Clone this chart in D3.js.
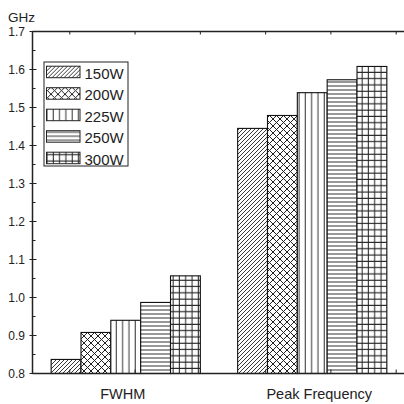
<!DOCTYPE html>
<html>
<head>
<meta charset="utf-8">
<script src="https://cdn.jsdelivr.net/npm/d3@7"></script>
<style>
  body { margin: 0; background: #fff; }
  text { font-family: Arial, "Liberation Sans", sans-serif; fill: #222; }
</style>
</head>
<body>
<script>
// chart data
var groups = ["FWHM", "Peak Frequency"];
var series = ["150W", "200W", "225W", "250W", "300W"];
var fwhm = [0.837, 0.908, 0.940, 0.987, 1.057];
var peak = [1.445, 1.479, 1.539, 1.573, 1.608];
var yTicks = [0.8, 0.9, 1.0, 1.1, 1.2, 1.3, 1.4, 1.5, 1.6, 1.7];
var frameTicks = [0.7, 1.05, 1.4, 1.75, 2.1, 2.45];

var w = 404, h = 404;
// plot edges (note: "top" is taken by window.top)
var pLeft = 32.5, pRight = 405.5, pTop = 31.5, pBottom = 373.5;

var svg = d3.select("body")
    .append("svg")
    .attr("width", w)
    .attr("height", h);

// scales
var x = d3.scaleLinear().domain([0.5, 2.5]).range([pLeft, pRight]);
var inner = d3.scaleBand().domain(series).range([-0.4, 0.4]);
var y = d3.scaleLinear().domain([0.8, 1.7]).range([pBottom, pTop]);

// hatch patterns
var defs = svg.append("defs");
function pat(id, size, draw) {
    var p = defs.append("pattern")
        .attr("id", id)
        .attr("patternUnits", "userSpaceOnUse")
        .attr("width", size)
        .attr("height", size);
    p.append("rect").attr("width", size).attr("height", size).attr("fill", "#fff");
    draw(p);
}
pat("p150", 4, function(p){
    p.append("path").attr("d", "M-1,1 L1,-1 M0,4 L4,0 M3,5 L5,3")
        .attr("stroke", "#222").attr("stroke-width", 0.9);
});
pat("p200", 7, function(p){
    p.append("path").attr("d", "M0,0 L7,7 M7,0 L0,7")
        .attr("stroke", "#222").attr("stroke-width", 1);
});
pat("p225", 6.3, function(p){
    p.append("path").attr("d", "M3,0 L3,6.3")
        .attr("stroke", "#555").attr("stroke-width", 1.2);
});
pat("p250", 4, function(p){
    p.append("path").attr("d", "M0,2 L4,2")
        .attr("stroke", "#444").attr("stroke-width", 1.1);
});
pat("p300", 6.3, function(p){
    p.append("path").attr("d", "M3,0 L3,6.3 M0,3 L6.3,3")
        .attr("stroke", "#222").attr("stroke-width", 1);
});
var fills = {"150W": "url(#p150)", "200W": "url(#p200)", "225W": "url(#p225)",
             "250W": "url(#p250)", "300W": "url(#p300)"};

// bars
var rows = [];
[fwhm, peak].forEach(function(vals, gi){
    vals.forEach(function(v, si){
        rows.push({g: gi + 1, s: series[si], v: v});
    });
});
var bw = x(inner.bandwidth()) - x(0);
svg.selectAll(".bar")
    .data(rows)
    .enter()
    .append("rect")
    .attr("class", "bar")
    .attr("x", function(d){ return x(d.g + inner(d.s)); })
    .attr("y", function(d){ return y(d.v); })
    .attr("width", bw)
    .attr("height", function(d){ return y(0.8) - y(d.v); })
    .attr("fill", function(d){ return fills[d.s]; })
    .attr("stroke", "#111")
    .attr("stroke-width", 1.1);

// frame: left axis, bottom and top lines
var ax = svg.append("g").attr("stroke", "#222");
ax.append("line").attr("x1", pLeft).attr("x2", pLeft).attr("y1", pTop).attr("y2", pBottom).attr("stroke-width", 1.5);
ax.append("line").attr("x1", pLeft).attr("x2", w).attr("y1", pBottom).attr("y2", pBottom).attr("stroke-width", 1.5);
ax.append("line").attr("x1", pLeft).attr("x2", w).attr("y1", pTop).attr("y2", pTop).attr("stroke-width", 1.5);

// y ticks
ax.selectAll(".ymaj")
    .data(yTicks)
    .enter()
    .append("line")
    .attr("x1", pLeft - 3).attr("x2", pLeft + 4)
    .attr("y1", function(d){ return y(d); })
    .attr("y2", function(d){ return y(d); });
ax.selectAll(".ymin")
    .data(yTicks.slice(0, -1))
    .enter()
    .append("line")
    .attr("x1", pLeft).attr("x2", pLeft + 3)
    .attr("y1", function(d){ return y(d + 0.05); })
    .attr("y2", function(d){ return y(d + 0.05); });

svg.selectAll(".ylab")
    .data(yTicks)
    .enter()
    .append("text")
    .attr("x", pLeft - 7.5)
    .attr("y", function(d){ return y(d) + 4; })
    .attr("text-anchor", "end")
    .style("font-size", "12px")
    .text(function(d){ return d.toFixed(1); });

svg.append("text")
    .attr("x", 8).attr("y", 21.5)
    .style("font-size", "13.5px")
    .text("GHz");

// small ticks on top and bottom lines
ax.selectAll(".tt")
    .data(frameTicks)
    .enter()
    .append("line")
    .attr("x1", function(d){ return x(d); })
    .attr("x2", function(d){ return x(d); })
    .attr("y1", pTop).attr("y2", pTop + 3);
ax.selectAll(".bt")
    .data(frameTicks)
    .enter()
    .append("line")
    .attr("x1", function(d){ return x(d); })
    .attr("x2", function(d){ return x(d); })
    .attr("y1", pBottom).attr("y2", pBottom - 4);

// category labels (printed slightly off the group centres, as in the source)
var labelShift = [-3, 7];
svg.selectAll(".xlab")
    .data(groups)
    .enter()
    .append("text")
    .attr("x", function(d, i){ return x(i + 1) + labelShift[i]; })
    .attr("y", 399)
    .attr("text-anchor", "middle")
    .style("font-size", "14.5px")
    .text(function(d){ return d; });

// legend
var lg = svg.append("g").attr("transform", "translate(44,62)");
lg.append("rect")
    .attr("width", 84).attr("height", 104)
    .attr("fill", "#fff").attr("stroke", "#222").attr("stroke-width", 1);
var item = lg.selectAll(".item")
    .data(series)
    .enter()
    .append("g")
    .attr("transform", function(d, i){ return "translate(0," + (3.7 + i * 21.5) + ")"; });
item.append("rect")
    .attr("x", 2.5).attr("y", 0.5)
    .attr("width", 33.5).attr("height", 11.5)
    .attr("fill", function(d){ return fills[d]; })
    .attr("stroke", "#222");
item.append("text")
    .attr("x", 40.5).attr("y", 12.8)
    .style("font-size", "15px")
    .text(function(d){ return d; });
</script>
</body>
</html>
